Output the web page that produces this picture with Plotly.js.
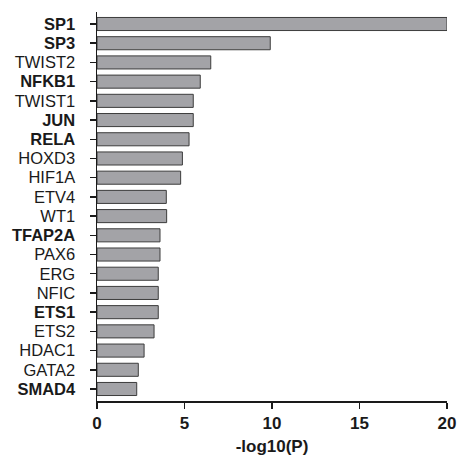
<!DOCTYPE html>
<html>
<head>
<meta charset="utf-8">
<script src="https://cdn.plot.ly/plotly-3.0.1.min.js"></script>
<style>html,body{margin:0;padding:0;background:#fff;}#chart{width:457px;height:456px;}</style>
</head>
<body>
<div id="chart"></div>
<script>
const categories = ["SP1","SP3","TWIST2","NFKB1","TWIST1","JUN","RELA","HOXD3","HIF1A","ETV4","WT1","TFAP2A","PAX6","ERG","NFIC","ETS1","ETS2","HDAC1","GATA2","SMAD4"];
const values = [20, 9.9, 6.5, 5.9, 5.5, 5.5, 5.26, 4.88, 4.78, 3.96, 3.98, 3.6, 3.6, 3.5, 3.5, 3.5, 3.26, 2.69, 2.36, 2.27];
const boldNames = ["SP1","SP3","NFKB1","JUN","RELA","TFAP2A","ETS1","SMAD4"];
const xTicks = [0, 5, 10, 15, 20];
const xTickLabels = ["<b>0</b>","<b>5</b>","<b>10</b>","<b>15</b>","<b>20</b>"];

const tickText = categories.map(c => boldNames.includes(c) ? "<b>" + c + "</b>" : c);

const trace = {
  type: "bar",
  orientation: "h",
  x: values,
  y: categories,
  marker: {color: "#a3a3a7", line: {color: "#3c3c3c", width: 1}},
  width: 0.68,
  hoverinfo: "none"
};

const layout = {
  width: 457, height: 456,
  margin: {l: 97, r: 10, t: 12, b: 55},
  paper_bgcolor: "#fff", plot_bgcolor: "#fff",
  font: {family: "Liberation Sans, Arial, sans-serif", color: "#1a1a1a"},
  showlegend: false,
  xaxis: {
    range: [0, 20], tickvals: xTicks, ticktext: xTickLabels,
    showgrid: false, zeroline: false, showline: true, linecolor: "#1a1a1a", linewidth: 1.5,
    ticks: "outside", ticklen: 6, tickwidth: 1.5, tickcolor: "#1a1a1a",
    tickfont: {size: 17, color: "#1a1a1a"},
    title: {text: "<b>-log10(P)</b>", font: {size: 17, color: "#1a1a1a"}, standoff: 10}
  },
  yaxis: {
    type: "category", tickvals: categories, ticktext: tickText,
    range: [categories.length - 0.375, -0.625],
    showgrid: false, zeroline: false, showline: true, linecolor: "#1a1a1a", linewidth: 1.5,
    ticks: "outside", ticklen: 6, tickwidth: 1.5, tickcolor: "#1a1a1a",
    tickfont: {size: 16.5, color: "#1a1a1a"}, ticklabelstandoff: 11
  }
};

Plotly.newPlot("chart", [trace], layout, {staticPlot: true, displayModeBar: false});
</script>
</body>
</html>
